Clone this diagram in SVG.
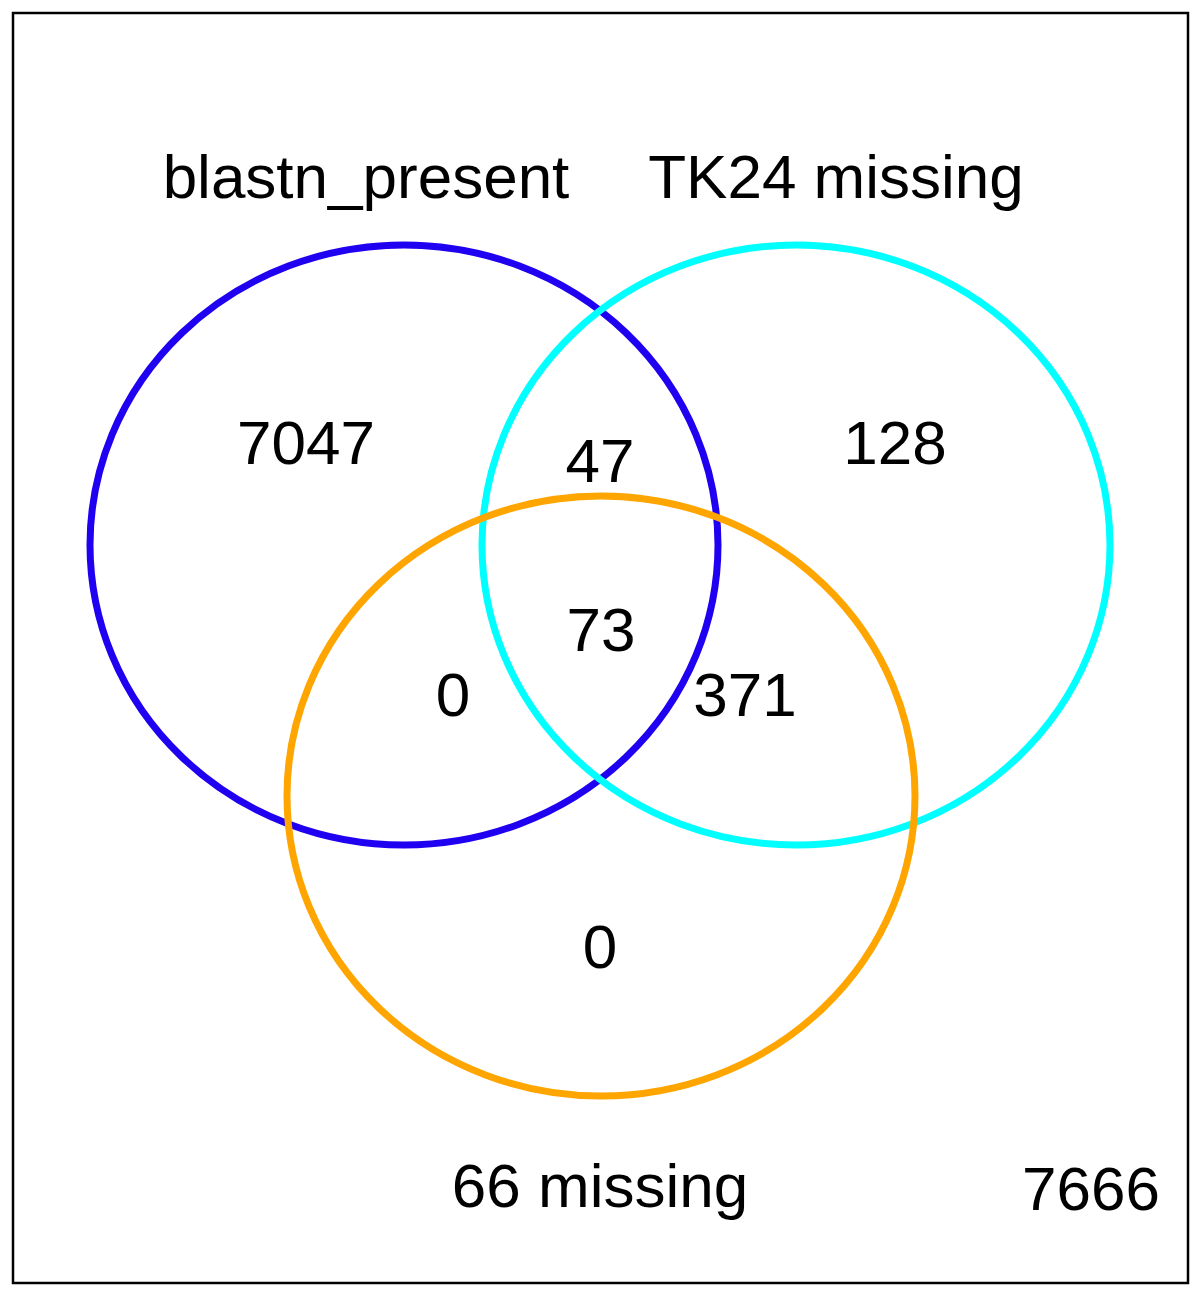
<svg xmlns="http://www.w3.org/2000/svg" width="1200" height="1294" viewBox="0 0 1200 1294">
<style>
.t{font-family:"Liberation Sans",Arial,sans-serif;font-size:62px;fill:#000;text-anchor:middle}
.c{fill:none;stroke-width:7}
</style>
<rect width="1200" height="1294" fill="#fff"/>
<rect x="13" y="13" width="1175" height="1270" fill="none" stroke="#000" stroke-width="2.5"/>
<g id="blastn_present">
<ellipse class="c" cx="404" cy="545" rx="314" ry="300" stroke="#2000F0"/>
<text class="t" x="366" y="198">blastn_present</text>
</g>
<g id="TK24_missing">
<ellipse class="c" cx="796" cy="545" rx="314" ry="300" stroke="#00FFFF"/>
<text class="t" x="836" y="198">TK24 missing</text>
</g>
<g id="m66_missing">
<ellipse class="c" cx="601" cy="796" rx="314" ry="300" stroke="#FFA500"/>
<text class="t" x="600" y="1207">66 missing</text>
</g>
<g id="counts">
<text class="t" x="306" y="464">7047</text>
<text class="t" x="600" y="482">47</text>
<text class="t" x="895" y="464">128</text>
<text class="t" x="601" y="651">73</text>
<text class="t" x="453" y="716">0</text>
<text class="t" x="745" y="716">371</text>
<text class="t" x="600" y="968">0</text>
<text class="t" x="1091" y="1210">7666</text>
</g>
<g id="connectors"/>
</svg>
